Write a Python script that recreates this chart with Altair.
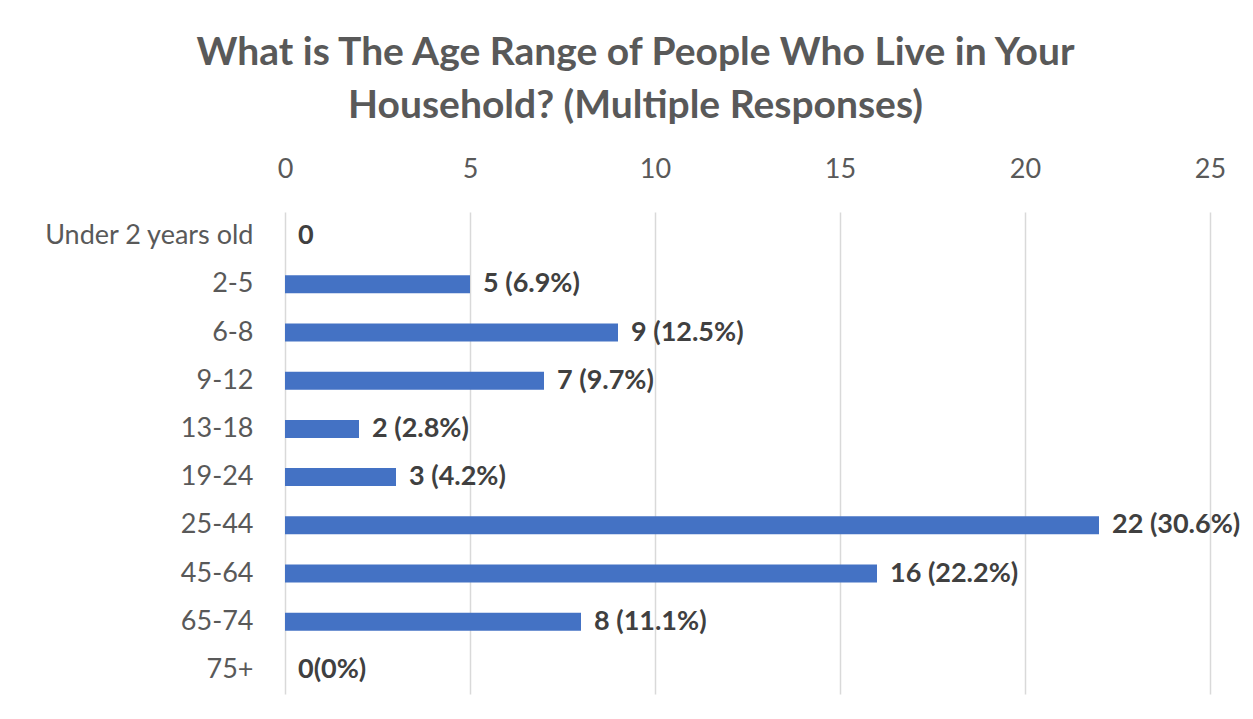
import altair as alt
import pandas as pd

categories = ["Under 2 years old", "2-5", "6-8", "9-12", "13-18", "19-24",
              "25-44", "45-64", "65-74", "75+"]
counts = [0, 5, 9, 7, 2, 3, 22, 16, 8, 0]
labels = ["0", "5 (6.9%)", "9 (12.5%)", "7 (9.7%)", "2 (2.8%)", "3 (4.2%)",
          "22 (30.6%)", "16 (22.2%)", "8 (11.1%)", "0(0%)"]
x_ticks = [0, 5, 10, 15, 20, 25]

df = pd.DataFrame({"category": categories, "count": counts, "label": labels})

FONT = "Lato"
W, H = 925, 482

base = alt.Chart(df).encode(
    y=alt.Y("category:N", sort=categories, title=None,
            axis=alt.Axis(labelFont=FONT, labelFontSize=27, labelColor="#595959",
                          labelPadding=32, labelLimit=400, ticks=False,
                          domain=False, grid=False)),
)

bars = base.mark_bar(color="#4472C4", size=18).encode(
    x=alt.X("count:Q",
            scale=alt.Scale(domain=[0, 25], nice=False, padding=0, range=[0, W]),
            title=None,
            axis=alt.Axis(orient="top", values=x_ticks, labelFont=FONT,
                          labelFontSize=27, labelColor="#595959", labelPadding=29,
                          labelFlush=False, ticks=False, domain=False, grid=True,
                          gridColor="#D9D9D9", gridWidth=1.5))
)

text = base.mark_text(align="left", baseline="middle", dx=13, font=FONT,
                      fontSize=27, fontWeight="bold", color="#404040").encode(
    x=alt.X("count:Q"),
    text="label:N",
)

chart = (bars + text).properties(
    width=W,
    height=H,
    title=alt.TitleParams(
        text=["What is The Age Range of People Who Live in Your",
              "Household? (Multiple Responses)"],
        font=FONT, fontSize=39, fontWeight="bold", color="#595959",
        anchor="middle", dx=-112, lineHeight=53, offset=29,
    ),
    autosize=alt.AutoSizeParams(type="none"),
    padding={"left": 277, "top": 204, "right": 35, "bottom": 17},
).configure(background="white").configure_view(strokeWidth=0)

chart.save("out.html", embed_options={"renderer": "svg", "actions": False})
